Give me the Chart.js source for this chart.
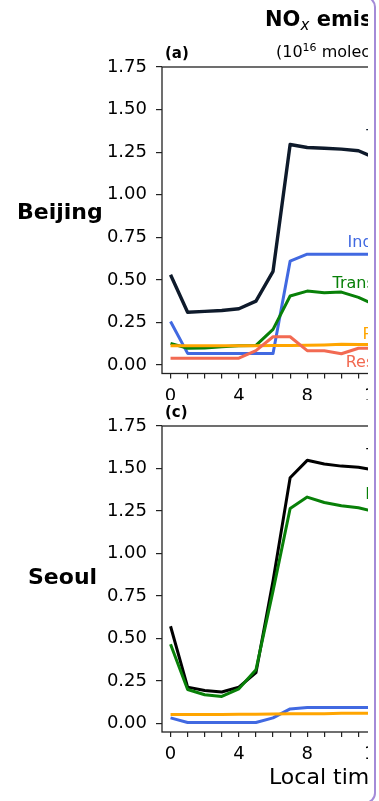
<!DOCTYPE html>
<html>
<head>
<meta charset="utf-8">
<script src="https://cdn.jsdelivr.net/npm/chart.js@4/dist/chart.umd.min.js"></script>
<style>
  html, body { margin: 0; padding: 0; background: #fff; }
  body { width: 379px; height: 801px; position: relative; overflow: hidden; font-family: "DejaVu Sans", sans-serif; }
  #clip { position: absolute; left: 0; top: 0; width: 368px; height: 801px; overflow: hidden; }
  #frame { position: absolute; left: -30px; top: -4px; width: 406px; height: 808px; border: 2px solid #a48bd8; border-radius: 11px; box-sizing: border-box; pointer-events: none; }
  canvas { position: absolute; left: 0; }
  .t { position: absolute; white-space: nowrap; color: #000; line-height: 1; }
  .title { left: 265px; top: 9px; font-size: 21px; font-weight: bold; }
  .title sub { font-style: italic; font-weight: normal; font-size: 15px; vertical-align: -4px; }
  .unit { left: 276px; top: 42px; font-size: 16px; }
  .unit sup { font-size: 11px; vertical-align: 6px; }
  .panel { font-size: 15px; font-weight: bold; }
  .row { font-size: 22px; font-weight: bold; }
  .xl { left: 269px; top: 766px; font-size: 22px; }
</style>
</head>
<body>
<div id="clip">
  <canvas id="cA" width="620" height="400" style="top:0px"></canvas>
  <canvas id="cB" width="620" height="401" style="top:400px"></canvas>
  <div class="t title">NO<sub>x</sub> emissions</div>
  <div class="t unit">(10<sup>16</sup> molecules cm<sup>−2</sup> s<sup>−1</sup>)</div>
  <div class="t panel" style="left:165px; top:46px;">(a)</div>
  <div class="t panel" style="left:165px; top:405px;">(c)</div>
  <div class="t row" style="left:17px; top:201px;">Beijing</div>
  <div class="t row" style="left:28px; top:566px;">Seoul</div>
  <div class="t xl">Local time (hour)</div>
</div>
<div id="frame"></div>
<script>
// Hours of the day shown on the x axis
const hours = [0, 1, 2, 3, 4, 5, 6, 7, 8, 9, 10, 11, 12];
const hourTicks = Array.from({ length: 24 }, (_, i) => i);
const emissionTicks = [0, 0.25, 0.5, 0.75, 1.0, 1.25, 1.5, 1.75];

// Beijing sector emissions (10^16 molecules cm^-2 s^-1)
const beijingTotal       = [0.53, 0.31, 0.315, 0.32, 0.33, 0.375, 0.55, 1.295, 1.277, 1.273, 1.268, 1.258, 1.215];
const beijingIndustry    = [0.255, 0.068, 0.068, 0.068, 0.068, 0.068, 0.068, 0.61, 0.651, 0.651, 0.651, 0.651, 0.651];
const beijingTransport   = [0.127, 0.098, 0.10, 0.107, 0.113, 0.115, 0.209, 0.405, 0.434, 0.424, 0.428, 0.397, 0.352];
const beijingPower       = [0.113, 0.113, 0.113, 0.113, 0.113, 0.113, 0.114, 0.115, 0.116, 0.118, 0.122, 0.121, 0.12];
const beijingResidential = [0.04, 0.04, 0.04, 0.04, 0.04, 0.084, 0.166, 0.166, 0.084, 0.084, 0.066, 0.098, 0.098];

// Seoul sector emissions (10^16 molecules cm^-2 s^-1)
const seoulTotal    = [0.572, 0.214, 0.194, 0.185, 0.214, 0.299, 0.84, 1.446, 1.548, 1.526, 1.514, 1.507, 1.49];
const seoulMobile   = [0.466, 0.20, 0.169, 0.159, 0.204, 0.316, 0.78, 1.265, 1.332, 1.30, 1.281, 1.269, 1.245];
const seoulIndustry = [0.033, 0.006, 0.006, 0.006, 0.006, 0.006, 0.033, 0.086, 0.094, 0.094, 0.094, 0.094, 0.094];
const seoulPower    = [0.053, 0.053, 0.053, 0.053, 0.054, 0.055, 0.056, 0.058, 0.057, 0.058, 0.06, 0.061, 0.06];

const COL = { total: '#0e1a2b', industry: '#4169e1', transport: '#088008', power: '#ffa500', residential: '#f26a52' };
const AXIS = '#222';
const FONT = 'DejaVu Sans';

function series(values, color, order, width) {
  return {
    data: hours.map((h, i) => ({ x: h, y: values[i] })),
    borderColor: color, borderWidth: width || 3, pointRadius: 0, tension: 0,
    borderJoinStyle: 'round', borderCapStyle: 'butt', fill: false, order: order
  };
}

// Axes box drawn on all four sides
const framePlugin = {
  id: 'frame',
  afterDatasetsDraw(chart) {
    const a = chart.chartArea, ctx = chart.ctx;
    ctx.save();
    ctx.strokeStyle = AXIS; ctx.lineWidth = 1.3;
    ctx.strokeRect(a.left, a.top, a.right - a.left, a.bottom - a.top);
    ctx.restore();
  }
};

// Sector names written next to their lines
const sectorLabelPlugin = {
  id: 'sectorLabels',
  afterDatasetsDraw(chart, args, opts) {
    const ctx = chart.ctx, xs = chart.scales.x, ys = chart.scales.y;
    ctx.save();
    ctx.font = '16px "' + FONT + '"';
    ctx.textAlign = 'left'; ctx.textBaseline = 'middle';
    (opts.items || []).forEach(it => {
      ctx.fillStyle = it.color;
      ctx.fillText(it.text, xs.getPixelForValue(it.x), ys.getPixelForValue(it.y));
    });
    ctx.restore();
  }
};

function panel(canvasId, datasets, labels, padTop, xAxisHeight) {
  return new Chart(document.getElementById(canvasId), {
    type: 'line',
    data: { datasets },
    options: {
      responsive: false, animation: false, devicePixelRatio: 1,
      layout: { padding: { top: padTop, right: 48, left: 0, bottom: 0 } },
      plugins: { legend: { display: false }, tooltip: { enabled: false }, sectorLabels: { items: labels } },
      scales: {
        x: {
          type: 'linear', min: -0.5, max: 23.5,
          afterBuildTicks: s => { s.ticks = hourTicks.map(v => ({ value: v })); },
          afterFit: s => { s.height = xAxisHeight; },
          ticks: { autoSkip: false, maxRotation: 0, padding: 7, color: '#000',
                   font: { family: FONT, size: 18 }, callback: v => (v % 4 === 0 ? String(v) : '') },
          grid: { drawOnChartArea: false, drawTicks: true, tickLength: 5, color: AXIS, lineWidth: 1.2 },
          border: { display: false }
        },
        y: {
          min: -0.05, max: 1.75,
          afterBuildTicks: s => { s.ticks = emissionTicks.map(v => ({ value: v })); },
          afterFit: s => { s.width = 162; },
          ticks: { padding: 9, color: '#000', font: { family: FONT, size: 18 }, callback: v => v.toFixed(2) },
          grid: { drawOnChartArea: false, drawTicks: true, tickLength: 6, color: AXIS, lineWidth: 1.2 },
          border: { display: false }
        }
      }
    },
    plugins: [framePlugin, sectorLabelPlugin]
  });
}

panel('cA', [
  series(beijingTotal, COL.total, 4, 3.4),
  series(beijingIndustry, COL.industry, 3),
  series(beijingTransport, COL.transport, 2),
  series(beijingPower, COL.power, 1),
  series(beijingResidential, COL.residential, 0)
], [
  { text: 'Total', color: COL.total, x: 11.45, y: 1.34 },
  { text: 'Industry', color: COL.industry, x: 10.36, y: 0.716 },
  { text: 'Transport', color: COL.transport, x: 9.48, y: 0.475 },
  { text: 'Power', color: COL.power, x: 11.24, y: 0.176 },
  { text: 'Residential', color: COL.residential, x: 10.25, y: 0.012 }
], 67, 26.5);

panel('cB', [
  series(seoulTotal, '#000000', 4, 3),
  series(seoulMobile, COL.transport, 3),
  series(seoulIndustry, COL.industry, 2),
  series(seoulPower, COL.power, 1)
], [
  { text: 'Total', color: '#000000', x: 11.45, y: 1.575 },
  { text: 'Mobile', color: COL.transport, x: 11.4, y: 1.345 },
  { text: 'Power', color: COL.power, x: 11.55, y: 0.085 }
], 26, 69);
</script>
</body>
</html>
